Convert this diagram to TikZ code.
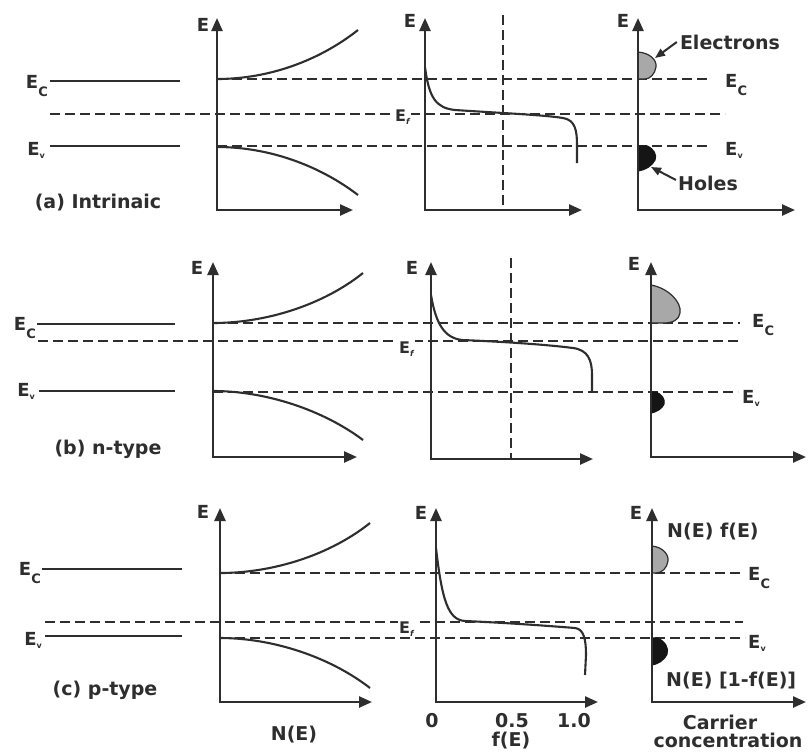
\documentclass[tikz,border=0pt]{standalone}
\usepackage{fontspec}
\setmainfont{DejaVu Sans}
\usetikzlibrary{arrows.meta}

\definecolor{inkc}{HTML}{2E2E2E}
\definecolor{elecc}{HTML}{A8A8A8}
\definecolor{holec}{HTML}{151515}

% subscripts of the level labels
\newcommand\subC{\raisebox{-8pt}{\fontsize{13}{13}\selectfont C}}
\newcommand\subv{\raisebox{-3pt}{\fontsize{8}{8}\selectfont v}}
\newcommand\subf{\raisebox{-3pt}{\fontsize{8}{8}\selectfont\itshape f}}

\begin{document}
\begin{tikzpicture}[
    x=1pt, y=-1pt,
    axis/.style={draw=inkc, line width=2.4pt,
                 {Triangle[length=13pt,width=11pt]}-{Triangle[length=13pt,width=11pt]}},
    level/.style={draw=inkc, line width=2.2pt},
    guide/.style={draw=inkc, line width=2.1pt, dash pattern=on 10pt off 5pt},
    band/.style={draw=inkc, line width=2.1pt},
    lbl/.style={font=\fontsize{19}{21}\selectfont\bfseries, text=inkc, inner sep=0pt},
    elab/.style={font=\fontsize{18}{20}\selectfont\bfseries, text=inkc, inner sep=0pt},
    flab/.style={font=\fontsize{16}{18}\selectfont\bfseries, text=inkc, inner sep=1pt,
                 fill=white},
    elecfill/.style={fill=elecc, draw=inkc, line width=1.2pt},
    holefill/.style={fill=holec, draw=holec, line width=1.2pt},
    pointer/.style={draw=inkc, line width=2pt, -{Triangle[length=10pt,width=8pt]}},
  ]
  \fill[white] (0,0) rectangle (809,753);
  \useasboundingbox (0,0) rectangle (809,753);

  % ---------------- (a) intrinsic ----------------
  \draw[level] (50,81) -- (180,81);
  \draw[level] (50,146) -- (180,146);
  \node[elab, anchor=base east] (ecLa) at (48,88) {E\subC};
  \node[elab, anchor=base east] (evLa) at (45,155) {E\subv};
  \draw[guide] (217,79) -- (710,79);
  \draw[guide] (50,114) -- (725,114);
  \draw[guide] (217,146) -- (707,146);
  \draw[guide] (503,15) -- (503,210);
  \node[flab, anchor=base west] (efa) at (394,121) {E\subf};
  \node[elab, anchor=base west] (ecRa) at (725,87) {E\subC};
  \node[elab, anchor=base west] (evRa) at (725,155) {E\subv};
  \draw[band] (217,79) .. controls (270,79) and (320,60) .. (358,30);
  \draw[band] (217,147) .. controls (270,147) and (320,166) .. (358,195);
  \draw[band] (425,67) .. controls (429,98) and (436,108) .. (455,110)
    .. controls (500,113) and (545,115) .. (563,118)
    .. controls (575,120) and (577,130) .. (577,145) -- (577,163);
  \filldraw[elecfill] (638,52) .. controls (650,53) and (657,60) .. (656,67)
    .. controls (655,74) and (650,79) .. (645,79) -- (638,79) -- cycle;
  \filldraw[holefill] (638,146) -- (647,146) .. controls (654,149) and (657,155) .. (655,160)
    .. controls (652,166) and (645,170) .. (638,171) -- cycle;
  \draw[axis] (217,18) |- (353,210);
  \draw[axis] (425,18) |- (582,210);
  \draw[axis] (638,18) |- (795,210);
  \node[elab] (ea1) at (203,25) {E};
  \node[elab] (ea2) at (410,21) {E};
  \node[elab] (ea3) at (623,21) {E};
  \node[lbl] (elecA) at (730,42) {Electrons};
  \node[lbl] (holesA) at (708,183) {Holes};
  \coordinate (ebA) at (655,58);
  \coordinate (hbA) at (651,167);
  \draw[pointer] ([xshift=-3pt]elecA.west) -- (ebA);
  \draw[pointer] ([xshift=-2pt,yshift=3pt]holesA.west) -- (hbA);
  \node[lbl] (capa) at (98,203) {(a) Intrinaic};

  % ---------------- (b) n-type ----------------
  \draw[level] (37,324) -- (175,324);
  \draw[level] (39,391) -- (175,391);
  \node[elab, anchor=base east] (ecLb) at (36,330) {E\subC};
  \node[elab, anchor=base east] (evLb) at (35,396) {E\subv};
  \draw[guide] (213,323) -- (740,323);
  \draw[guide] (38,341) -- (738,341);
  \draw[guide] (213,392) -- (738,392);
  \draw[guide] (511,258) -- (511,459);
  \node[flab, anchor=base west] (efb) at (398,353) {E\subf};
  \node[elab, anchor=base west] (ecRb) at (752,327) {E\subC};
  \node[elab, anchor=base west] (evRb) at (742,403) {E\subv};
  \draw[band] (213,323) .. controls (266,323) and (323,305) .. (363,273);
  \draw[band] (213,391) .. controls (266,391) and (323,410) .. (363,440);
  \draw[band] (431,295) .. controls (436,325) and (445,338) .. (462,340)
    .. controls (510,342) and (550,345) .. (573,348)
    .. controls (588,350) and (592,360) .. (592,375) -- (592,392);
  \filldraw[elecfill] (651,285) .. controls (668,288) and (682,302) .. (680,313)
    .. controls (679,320) and (673,323) .. (663,323) -- (651,323) -- cycle;
  \filldraw[holefill] (651,392) -- (655,392) .. controls (662,394) and (665,399) .. (664,404)
    .. controls (662,409) and (656,412) .. (651,413) -- cycle;
  \draw[axis] (213,262) |- (357,457);
  \draw[axis] (431,262) |- (593,459);
  \draw[axis] (651,262) |- (806,457);
  \node[elab] (eb1) at (197,268) {E};
  \node[elab] (eb2) at (412,268) {E};
  \node[elab] (eb3) at (634,264) {E};
  \node[lbl] (capb) at (108,449) {(b) n-type};

  % ---------------- (c) p-type ----------------
  \draw[level] (42,569) -- (182,569);
  \draw[level] (45,636) -- (182,636);
  \node[elab, anchor=base east] (ecLc) at (41,575) {E\subC};
  \node[elab, anchor=base east] (evLc) at (42,645) {E\subv};
  \draw[guide] (220,573) -- (740,573);
  \draw[guide] (45,622) -- (743,622);
  \draw[guide] (220,638) -- (745,638);
  \node[flab, anchor=base west] (efc) at (398,633) {E\subf};
  \node[elab, anchor=base west] (ecRc) at (748,580) {E\subC};
  \node[elab, anchor=base west] (evRc) at (748,648) {E\subv};
  \draw[band] (220,573) .. controls (273,573) and (330,555) .. (370,523);
  \draw[band] (220,638) .. controls (273,638) and (330,657) .. (370,688);
  \draw[band] (436,548) .. controls (442,600) and (448,620) .. (465,621)
    .. controls (510,623) and (550,626) .. (575,628)
    .. controls (584,629) and (586,640) .. (586,655) -- (585,675);
  \filldraw[elecfill] (652,546) .. controls (662,547) and (669,554) .. (668,561)
    .. controls (667,568) and (662,573) .. (656,573) -- (652,573) -- cycle;
  \filldraw[holefill] (652,638) -- (657,638) .. controls (665,641) and (669,648) .. (667,654)
    .. controls (664,661) and (657,664) .. (652,665) -- cycle;
  \draw[axis] (220,508) |- (372,702);
  \draw[axis] (436,508) |- (598,702);
  \draw[axis] (652,508) |- (806,702);
  \node[elab] (ec1) at (203,512) {E};
  \node[elab] (ec2) at (421,513) {E};
  \node[elab] (ec3) at (636,513) {E};
  \node[lbl] (capc) at (105,690) {(c) p-type};
  \node[lbl, anchor=west] (nfc) at (667,532) {N(E) f(E)};
  \node[lbl, anchor=west] (npc) at (666,681) {N(E) [1-f(E)]};

  % axis titles
  \node[lbl] (tick0) at (432,721) {0};
  \node[lbl] (tick5) at (512,721) {0.5};
  \node[lbl] (tick1) at (574,721) {1.0};
  \node[lbl] (xfe) at (511,741) {f(E)};
  \node[lbl] (xne) at (294,735) {N(E)};
  \node[lbl] (xcar) at (720,722) {Carrier};
  \node[lbl] (xcon) at (728,740) {concentration};
\end{tikzpicture}
\end{document}
